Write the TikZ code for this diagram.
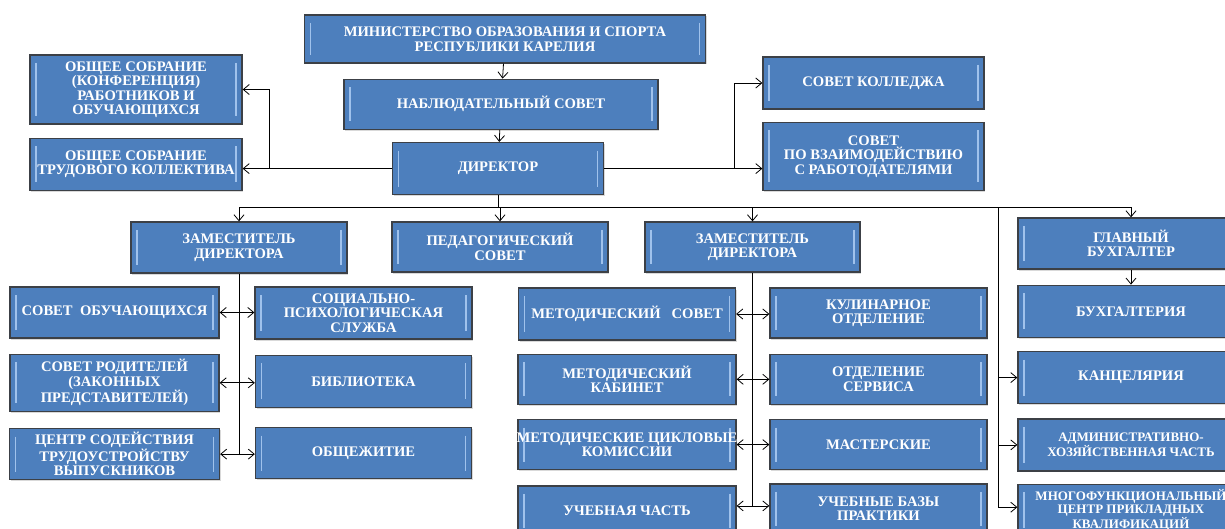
\documentclass[tikz,border=0pt]{standalone}
\usepackage{fontspec}
\setmainfont{Liberation Serif}
\usetikzlibrary{positioning, shadows, arrows.meta, calc}

\definecolor{boxblue}{RGB}{77,127,189}
\definecolor{boxline}{RGB}{60,64,70}
\definecolor{bevel}{RGB}{160,194,236}

\begin{document}
\begin{tikzpicture}[x=1pt, y=1pt, line width=0.8pt]
			% стили узлов
			\tikzstyle{box} = [rectangle, draw=boxline, line width=1.3pt, fill=boxblue, text=white,
				font=\bfseries\fontsize{14.6}{14.5}\selectfont, align=center, inner sep=1pt,
				drop shadow={shadow xshift=1.2pt, shadow yshift=-1.5pt, opacity=0.3},
				path picture={
					\draw[bevel, line width=1.6pt] ([xshift=6pt,yshift=-8pt]path picture bounding box.north west) -- ([xshift=6pt,yshift=8pt]path picture bounding box.south west);
					\draw[bevel, line width=1.6pt] ([xshift=-6pt,yshift=-8pt]path picture bounding box.north east) -- ([xshift=-6pt,yshift=8pt]path picture bounding box.south east);
				}]
			\tikzstyle{small} = [font=\bfseries\fontsize{13}{13.3}\selectfont]
			\tikzstyle{arrow} = [line width=0.8pt, ->, >={Straight Barb[length=6pt,width=10pt]}]
			\tikzstyle{darrow} = [line width=0.8pt, <->, >={Straight Barb[length=6pt,width=10pt]}]

			\path[use as bounding box, clip] (0,0) rectangle (1225,-529);

			% верхняя часть
			\node [box, minimum width=401pt, minimum height=48pt] (ministry) at (505,-39) {МИНИСТЕРСТВО ОБРАЗОВАНИЯ И СПОРТА\\РЕСПУБЛИКИ КАРЕЛИЯ};
			\node [box, minimum width=314pt, minimum height=50pt, below=15pt of ministry, xshift=-4pt] (supervis) {НАБЛЮДАТЕЛЬНЫЙ СОВЕТ};
			\node [box, minimum width=211pt, minimum height=52pt, below=12pt of supervis, xshift=-3pt] (director) {ДИРЕКТОР};
			\node [box, minimum width=212pt, minimum height=69pt] (general1) at (136,-89.5) {ОБЩЕЕ СОБРАНИЕ\\(КОНФЕРЕНЦИЯ)\\РАБОТНИКОВ И\\ОБУЧАЮЩИХСЯ};
			\node [box, minimum width=212pt, minimum height=52pt, below=13pt of general1] (general2) {ОБЩЕЕ СОБРАНИЕ\\ТРУДОВОГО КОЛЛЕКТИВА};
			\node [box, minimum width=221pt, minimum height=52pt] (council) at (873.5,-83) {СОВЕТ КОЛЛЕДЖА};
			\node [box, minimum width=221pt, minimum height=68pt, below=12pt of council] (employers) {СОВЕТ\\ПО ВЗАИМОДЕЙСТВИЮ\\С РАБОТОДАТЕЛЯМИ};

			% второй уровень
			\node [box, minimum width=216pt, minimum height=51pt] (deputy1) at (239,-247.5) {ЗАМЕСТИТЕЛЬ\\ДИРЕКТОРА};
			\node [box, minimum width=216pt, minimum height=50pt] (pedsov) at (500,-247) {ПЕДАГОГИЧЕСКИЙ\\СОВЕТ};
			\node [box, minimum width=215pt, minimum height=50pt] (deputy2) at (752.5,-247) {ЗАМЕСТИТЕЛЬ\\ДИРЕКТОРА};
			\node [box, minimum width=226pt, minimum height=51pt] (chiefacc) at (1131,-243.5) {ГЛАВНЫЙ\\БУХГАЛТЕР};

			% левая группа
			\node [box, minimum width=209pt, minimum height=51pt] (students) at (114.5,-312.5) {СОВЕТ~~ОБУЧАЮЩИХСЯ};
			\node [box, minimum width=209pt, minimum height=57pt, below=15pt of students] (parents) {СОВЕТ РОДИТЕЛЕЙ\\(ЗАКОННЫХ\\ПРЕДСТАВИТЕЛЕЙ)};
			\node [box, minimum width=210pt, minimum height=51pt, below=16pt of parents] (career) {ЦЕНТР СОДЕЙСТВИЯ\\ТРУДОУСТРОЙСТВУ\\ВЫПУСКНИКОВ};
			\node [box, minimum width=217pt, minimum height=52pt] (psych) at (363.5,-313) {СОЦИАЛЬНО-\\ПСИХОЛОГИЧЕСКАЯ\\СЛУЖБА};
			\node [box, minimum width=216pt, minimum height=52pt, below=15pt of psych] (library) {БИБЛИОТЕКА};
			\node [box, minimum width=216pt, minimum height=51pt, below=19pt of library] (dorm) {ОБЩЕЖИТИЕ};

			% средняя группа
			\node [box, minimum width=217pt, minimum height=52pt] (metsov) at (627,-314) {МЕТОДИЧЕСКИЙ~~~СОВЕТ};
			\node [box, minimum width=218pt, minimum height=50pt, below=13pt of metsov] (metcab) {МЕТОДИЧЕСКИЙ\\КАБИНЕТ};
			\node [box, minimum width=218pt, minimum height=50pt, inner xsep=-3pt, below=14pt of metcab] (cycle) {МЕТОДИЧЕСКИЕ ЦИКЛОВЫЕ\\КОМИССИИ};
			\node [box, minimum width=218pt, minimum height=50pt, below=15pt of cycle] (study) {УЧЕБНАЯ ЧАСТЬ};
			\node [box, minimum width=217pt, minimum height=50pt] (culinary) at (878.5,-313) {КУЛИНАРНОЕ\\ОТДЕЛЕНИЕ};
			\node [box, minimum width=217pt, minimum height=50pt, below=15pt of culinary] (service) {ОТДЕЛЕНИЕ\\СЕРВИСА};
			\node [box, minimum width=217pt, minimum height=50pt, below=14pt of service] (workshops) {МАСТЕРСКИЕ};
			\node [box, minimum width=217pt, minimum height=50pt, below=13pt of workshops] (practice) {УЧЕБНЫЕ БАЗЫ\\ПРАКТИКИ};

			% правая группа
			\node [box, minimum width=226pt, minimum height=52pt, below=15pt of chiefacc] (accounts) {БУХГАЛТЕРИЯ};
			\node [box, minimum width=226pt, minimum height=52pt, below=13pt of accounts] (office) {КАНЦЕЛЯРИЯ};
			\node [box, small, minimum width=226pt, minimum height=52pt, below=14pt of office] (admin) {АДМИНИСТРАТИВНО-\\ХОЗЯЙСТВЕННАЯ ЧАСТЬ};
			\node [box, small, minimum width=226pt, minimum height=52pt, below=12pt of admin] (mfc) {МНОГОФУНКЦИОНАЛЬНЫЙ\\ЦЕНТР ПРИКЛАДНЫХ\\КВАЛИФИКАЦИЙ};

			% стрелки
			\draw [arrow] (ministry) -- (supervis);
			\draw [arrow] (supervis) -- (director);
			\draw [arrow] (director.west) -- ++(-122pt,0) coordinate (lj) -- (lj -| general2.east);
			\draw [arrow] (lj) |- (general1.east);
			\draw [arrow] (director.east) -- ++(130pt,0) coordinate (rj) -- (rj -| employers.west);
			\draw [arrow] (rj) |- (council.west);

			\draw (director.south) -- ++(0,-12pt) coordinate (bus);
			\draw (deputy1.north |- bus) -- (chiefacc.north |- bus);
			\draw [arrow] (deputy1.north |- bus) -- (deputy1.north);
			\draw [arrow] (pedsov.north |- bus) -- (pedsov.north);
			\draw [arrow] (deputy2.north |- bus) -- (deputy2.north);
			\draw [arrow] (chiefacc.north |- bus) -- (chiefacc.north);
			\draw [arrow] (chiefacc) -- (accounts);

			\coordinate (branch) at ($(chiefacc.west |- bus)+(-19pt,0)$);
			\draw [arrow] (branch) |- ([yshift=3pt]mfc.west);
			\draw [arrow] (branch |- office.west) -- (office.west);
			\draw [arrow] (branch |- admin.west) -- (admin.west);

			\draw (deputy1.south) -- (deputy1.south |- career.east);
			\draw [darrow] (students.east) -- (students.east -| psych.west);
			\draw [darrow] (parents.east) -- (parents.east -| library.west);
			\draw [darrow] (career.east) -- (career.east -| dorm.west);

			\draw (deputy2.south) -- ([yshift=5pt]deputy2.south |- study.east);
			\draw [darrow] (metsov.east) -- (metsov.east -| culinary.west);
			\draw [darrow] (metcab.east) -- (metcab.east -| service.west);
			\draw [darrow] (cycle.east) -- (cycle.east -| workshops.west);
			\draw [darrow] ([yshift=5pt]study.east) -- ([yshift=5pt]study.east -| practice.west);
		\end{tikzpicture}
\end{document}
